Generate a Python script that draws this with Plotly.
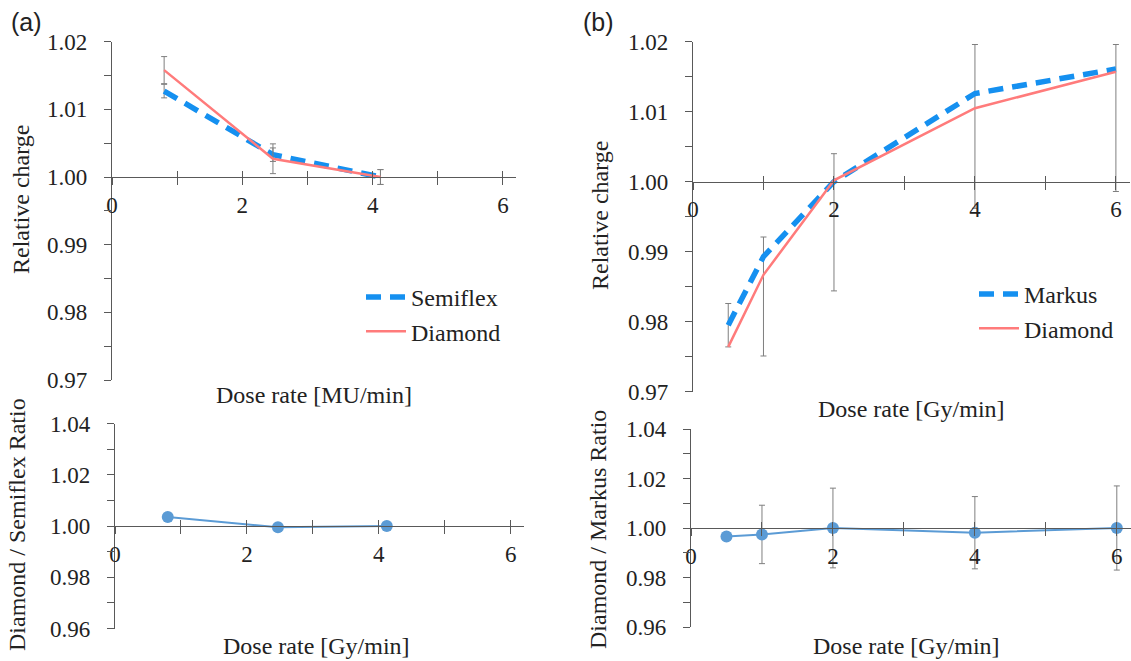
import plotly.graph_objects as go

# ---------------- data ----------------
# panel (a): Semiflex vs Diamond
dose_a = [0.8, 2.47, 4.12]
semiflex = [1.0127, 1.0033, 1.0000]
semiflex_err = [0.0010, 0.0010, 0.0011]
diamond_a = [1.0158, 1.0027, 1.0000]
diamond_a_err = [0.0020, 0.0022, 0.0011]
ratio_a = [1.0035, 0.9995, 1.0000]

# panel (b): Markus vs Diamond
dose_b = [0.5, 1.0, 2.0, 4.0, 6.0]
markus = [0.9795, 0.9893, 1.0000, 1.0126, 1.0161]
markus_err_plus = [0.0031, 0.0028, 0.0040, 0.0070, 0.0035]
markus_err_minus = [0.0031, 0.0142, 0.0156, 0.0164, 0.0175]
diamond_b = [0.9764, 0.9867, 1.0002, 1.0105, 1.0157]
ratio_b = [0.9966, 0.9974, 1.0000, 0.9981, 1.0000]
ratio_b_err = [0.0, 0.0118, 0.0161, 0.0146, 0.0170]

# ticks
x_tick_vals = [0, 1, 2, 3, 4, 5, 6]
x_tick_text = ["0", "", "2", "", "4", "", "6"]
top_ytick_vals = [0.970, 0.975, 0.980, 0.985, 0.990, 0.995, 1.000, 1.005, 1.010, 1.015, 1.020]
top_ytick_text = ["0.97", "", "0.98", "", "0.99", "", "1.00", "", "1.01", "", "1.02"]
bot_ytick_vals = [0.96, 0.97, 0.98, 0.99, 1.00, 1.01, 1.02, 1.03, 1.04]
bot_ytick_text = ["0.96", "", "0.98", "", "1.00", "", "1.02", "", "1.04"]

# ---------------- styling ----------------
W, H = 1131, 661
SERIF = "Liberation Serif"
SANS = "Liberation Sans"
AX = "#595959"
TXT = "#222222"
BLUE = "#1590F0"
RED = "#FF7B7B"
RATIO = "#5B9BD5"
ERR = "#7F7F7F"
FS = 23

def px_x(p):
    return p / W

def px_y(p):
    return 1 - p / H

# pixel boxes: (x0, x1, ytop, ybottom)
boxes = {
    1: (112, 516, 41.7, 380.0),   # (a) top
    2: (115, 524, 423.5, 628.5),  # (a) bottom
    3: (693, 1130, 41.7, 391.7),  # (b) top
    4: (691, 1131, 429.0, 627.0), # (b) bottom
}
yranges = {1: [0.97, 1.02], 2: [0.96, 1.04], 3: [0.97, 1.02], 4: [0.96, 1.04]}
xrange_ = [0, 6.2]

fig = go.Figure()

# (a) top
fig.add_trace(go.Scatter(x=dose_a, y=semiflex, mode="lines", name="Semiflex",
                         line=dict(color=BLUE, width=5.5, dash="15px,9px"),
                         error_y=dict(type="data", array=semiflex_err, color=ERR, thickness=1, width=3),
                         xaxis="x", yaxis="y", legend="legend"))
fig.add_trace(go.Scatter(x=dose_a, y=diamond_a, mode="lines", name="Diamond",
                         line=dict(color=RED, width=2.5),
                         error_y=dict(type="data", array=diamond_a_err, color=ERR, thickness=1, width=3),
                         xaxis="x", yaxis="y", legend="legend"))
# (a) bottom
fig.add_trace(go.Scatter(x=dose_a, y=ratio_a, mode="lines+markers", showlegend=False,
                         line=dict(color=RATIO, width=2), marker=dict(color=RATIO, size=12),
                         xaxis="x2", yaxis="y2"))
# (b) top
fig.add_trace(go.Scatter(x=dose_b, y=markus, mode="lines", name="Markus",
                         line=dict(color=BLUE, width=5.5, dash="15px,9px"),
                         error_y=dict(type="data", symmetric=False, array=markus_err_plus,
                                      arrayminus=markus_err_minus, color=ERR, thickness=1, width=3),
                         xaxis="x3", yaxis="y3", legend="legend2"))
fig.add_trace(go.Scatter(x=dose_b, y=diamond_b, mode="lines", name="Diamond",
                         line=dict(color=RED, width=2.5),
                         xaxis="x3", yaxis="y3", legend="legend2"))
# (b) bottom
fig.add_trace(go.Scatter(x=dose_b, y=ratio_b, mode="lines+markers", showlegend=False,
                         line=dict(color=RATIO, width=2), marker=dict(color=RATIO, size=12),
                         error_y=dict(type="data", array=ratio_b_err, color=ERR, thickness=1, width=3),
                         xaxis="x4", yaxis="y4"))

layout = dict(
    template="none",
    width=W, height=H,
    margin=dict(l=0, r=0, t=0, b=0, pad=0),
    paper_bgcolor="white", plot_bgcolor="rgba(0,0,0,0)",
    font=dict(family=SERIF, size=FS, color=TXT),
)

for i in range(1, 5):
    x0, x1, yt, yb = boxes[i]
    yr = yranges[i]
    d0, d1 = px_y(yb), px_y(yt)
    pos = d0 + (1.0 - yr[0]) / (yr[1] - yr[0]) * (d1 - d0)
    sfx = "" if i == 1 else str(i)
    yt_vals = top_ytick_vals if i in (1, 3) else bot_ytick_vals
    yt_text = top_ytick_text if i in (1, 3) else bot_ytick_text
    layout["xaxis" + sfx] = dict(
        domain=[px_x(x0), min(1.0, px_x(x1))], range=xrange_, anchor="free", position=pos,
        automargin=False,
        showgrid=False, zeroline=False, showline=True, linecolor=AX, linewidth=1.3,
        ticks="outside", ticklen=7, tickwidth=1.3, tickcolor=AX,
        tickmode="array", tickvals=x_tick_vals, ticktext=x_tick_text,
        ticklabelstandoff=0, tickfont=dict(family=SERIF, size=FS, color=TXT),
    )
    layout["yaxis" + sfx] = dict(
        domain=[d0, d1], range=yr, anchor="x" + sfx,
        automargin=False,
        showgrid=False, zeroline=False, showline=True, linecolor=AX, linewidth=1.3,
        ticks="outside", ticklen=7, tickwidth=1.3, tickcolor=AX,
        tickmode="array", tickvals=yt_vals, ticktext=yt_text,
        ticklabelstandoff=12, tickfont=dict(family=SERIF, size=FS, color=TXT),
    )
    # overlay axis giving the upward half of crossing ticks
    ov = str(i + 4)
    layout["xaxis" + ov] = dict(
        overlaying="x" + sfx, range=xrange_, anchor="free", position=pos,
        automargin=False,
        showgrid=False, zeroline=False, showline=False,
        ticks="inside", ticklen=6, tickwidth=1.3, tickcolor=AX,
        tickmode="array", tickvals=x_tick_vals, showticklabels=False,
    )
    fig.add_trace(go.Scatter(x=[], y=[], xaxis="x" + ov, yaxis="y" + sfx,
                             showlegend=False, hoverinfo="skip"))

layout["legend"] = dict(x=px_x(361), y=px_y(275), xanchor="left", yanchor="top",
                        bgcolor="rgba(0,0,0,0)", font=dict(family=SERIF, size=24, color=TXT),
                        itemwidth=40, tracegroupgap=0)
layout["legend2"] = dict(x=px_x(974), y=px_y(272), xanchor="left", yanchor="top",
                         bgcolor="rgba(0,0,0,0)", font=dict(family=SERIF, size=24, color=TXT),
                         itemwidth=40, tracegroupgap=0)

ann = []
def add_text(text, x, y, size=24, family=SERIF, angle=0):
    ann.append(dict(text=text, x=px_x(x), y=px_y(y), xref="paper", yref="paper",
                    showarrow=False, textangle=angle, xanchor="center", yanchor="middle",
                    font=dict(family=family, size=size, color=TXT)))

add_text("(a)", 26, 22, size=25, family=SANS)
add_text("(b)", 598, 22, size=25, family=SANS)
add_text("Relative charge", 21, 200, angle=-90)
add_text("Relative charge", 600, 216, angle=-90)
add_text("Dose rate [MU/min]", 314, 395)
add_text("Dose rate [Gy/min]", 911, 409)
add_text("Diamond / Semiflex Ratio", 17, 525, angle=-90)
add_text("Diamond / Markus Ratio", 598, 530, angle=-90)
add_text("Dose rate [Gy/min]", 316, 646)
add_text("Dose rate [Gy/min]", 906, 646)
layout["annotations"] = ann

fig.update_layout(**layout)
fig.write_html("out.html", config={"displayModeBar": False},
               post_script="document.body.style.margin='0';")
